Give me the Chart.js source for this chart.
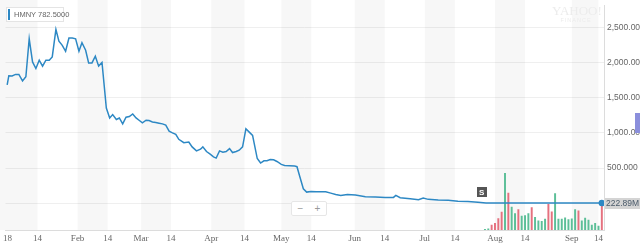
<!DOCTYPE html>
<html>
<head>
<meta charset="utf-8">
<script src="https://cdn.jsdelivr.net/npm/chart.js@4.4.0/dist/chart.umd.min.js"></script>
<style>
    body { margin: 0; background: #fff; overflow: hidden; }
    #wrap { position: relative; width: 640px; height: 246px; }
    #legend { position: absolute; left: 6px; top: 7px; width: 56px; height: 13px; border: 1px solid #e4e4e4; background: #fff; font: 7.5px "Liberation Sans", Arial, sans-serif; color: #666; line-height: 13px; white-space: nowrap; }
    #legend .bar { position: absolute; left: 1px; top: 1px; width: 2px; height: 11px; background: #2d88c4; }
    #legend span { position: absolute; left: 7px; }
    #brand { position: absolute; left: 552px; top: 4px; width: 48px; text-align: center; color: #ececec; font-family: "Liberation Serif", serif; }
    #brand .big { font-size: 13px; line-height: 13px; }
    #brand .small { font: 5.5px "Liberation Sans", sans-serif; letter-spacing: 1px; line-height: 7px; }
    #zoom { position: absolute; left: 291px; top: 201px; width: 34px; height: 13px; border: 1px solid #e6e6e6; border-radius: 2px; background: #fff; font: 10px "Liberation Sans", sans-serif; color: #999; line-height: 13px; }
    #zoom span { position: absolute; width: 17px; text-align: center; }
    #tab { position: absolute; left: 635px; top: 113px; width: 5px; height: 20px; background: #8b8fdc; }
</style>
</head>
<body>
<div id="wrap">
    <canvas id="chart" width="640" height="246"></canvas>
    <div id="legend"><div class="bar"></div><span>HMNY 782.5000</span></div>
    <div id="brand"><div class="big">YAHOO!</div><div class="small">FINANCE</div></div>
    <div id="zoom"><span style="left:0">−</span><span style="left:17px">+</span></div>
    <div id="tab"></div>
</div>
<script>
// x values are trading-day indexes counted from Jan 2 2018
const tickIdx = [0, 9, 21, 30, 40, 49, 61, 71, 82, 91, 104, 113, 125, 134, 146, 155, 169, 177];
const tickLabels = ["18", "14", "Feb", "14", "Mar", "14", "Apr", "14", "May", "14", "Jun", "14", "Jul", "14", "Aug", "14", "Sep", "14"];

// shaded bands: first trading day of month to the 14th
const bandFrom = [0, 21, 40, 61, 82, 104, 125, 146, 169];
const bandTo = [9, 30, 49, 71, 91, 113, 134, 155, 177];

const priceTicks = [0, 500, 1000, 1500, 2000, 2500];

const priceIdx = [-0.1, 0.4, 1.4, 2.4, 3.4, 4.5, 5.5, 6.5, 7.5, 8.5, 9.5, 10.5, 11.5, 12.5, 13.4, 14.5, 15.4, 16.4, 17.4, 18.4,
    19.4, 20.4, 21.4, 22.3, 23.4, 24.3, 25.3, 26.3, 27.3, 28.3, 29.6, 30.6, 31.5, 32.6, 33.5, 34.5, 35.5, 36.5, 37.5, 38.5,
    39.5, 40.4, 41.5, 42.4, 43.4, 44.4, 45.4, 46.4, 47.4, 48.4, 49.4, 50.4, 51.3, 52.8, 54.3, 55.3, 56.6, 57.8, 58.5, 59.6,
    60.7, 61.7, 62.5, 63.5, 64.5, 65.5, 66.5, 67.4, 68.5, 69.4, 70.4, 71.4, 72.4, 73.4, 74.8, 75.8, 76.8, 77.7, 78.7, 79.7,
    80.7, 82.0, 83.0, 84.5, 86.0, 86.7, 87.6, 88.6, 89.6, 90.9, 92.4, 93.9, 95.3, 96.8, 98.3, 99.8, 101.8, 104.2, 107.2, 110.2,
    113.1, 115.6, 116.3, 117.6, 120.6, 123.1, 124.5, 126.0, 129.0, 132.0, 134.9, 137.9, 140.9, 143.3, 150, 160, 170, 178];
const priceVal = [1681, 1812, 1808, 1830, 1830, 1737, 1798, 2336, 2008, 1914, 2032, 1948, 2032, 2032, 2079, 2468, 2303, 2243, 2159, 2346,
    2346, 2336, 2159, 2280, 2173, 1994, 1994, 2088, 1948, 1999, 1353, 1212, 1260, 1190, 1212, 1128, 1222, 1232, 1268, 1212,
    1176, 1142, 1180, 1176, 1156, 1148, 1138, 1128, 1110, 1025, 1001, 979, 909, 861, 871, 801, 744, 768, 801, 735,
    698, 660, 642, 744, 726, 735, 777, 721, 735, 754, 801, 1058, 1011, 965, 636, 572, 604, 604, 622, 618,
    594, 552, 538, 534, 529, 520, 369, 206, 159, 169, 164, 164, 164, 145, 126, 112, 126, 117, 94, 88,
    84, 84, 112, 80, 66, 52, 74, 56, 46, 42, 28, 24, 14, 4, 3, 3, 3, 3];

// volume in millions, up = green bar
const volIdx = [143, 144, 145, 146, 147, 148, 149, 150, 151, 152, 153, 154, 155, 156, 157, 158, 159, 160,
    161, 162, 163, 164, 165, 166, 167, 168, 169, 170, 171, 172, 173, 174, 175, 176, 177, 178];
const volVal = [6, 10, 41, 55, 96, 149, 473, 308, 192, 138, 171, 116, 121, 138, 187, 105, 77, 72,
    91, 215, 151, 303, 91, 91, 102, 88, 94, 171, 160, 77, 99, 83, 41, 55, 33, 222.89];
const volUp = [1, 1, 0, 0, 0, 0, 1, 0, 1, 1, 0, 1, 1, 1, 0, 1, 1, 1,
    1, 0, 0, 1, 1, 1, 1, 1, 1, 1, 0, 1, 1, 1, 1, 1, 1, 0];
const lastVolume = "222.89M";

// split event marker
const splitIdx = 142;

const lineColor = "#2d88c4";

const pricePoints = priceIdx.map((x, i) => ({ x: x, y: priceVal[i] }));
const volPoints = volIdx.map((x, i) => ({ x: x, y: volVal[i] }));

const bandsPlugin = {
    id: "bands",
    beforeDatasetsDraw(chart) {
        const ctx = chart.ctx;
        const xs = chart.scales.x;
        const area = chart.chartArea;
        ctx.save();
        ctx.fillStyle = "rgba(0,0,0,0.03)";
        bandFrom.forEach((from, i) => {
            const x1 = i === 0 ? 0 : xs.getPixelForValue(from);
            const x2 = xs.getPixelForValue(bandTo[i]);
            ctx.fillRect(x1, 0, x2 - x1, area.bottom);
        });
        ctx.restore();
    }
};

const overlayPlugin = {
    id: "overlay",
    afterDatasetsDraw(chart) {
        const ctx = chart.ctx;
        const xs = chart.scales.x;
        const ys = chart.scales.y;
        const vs = chart.scales.vol;
        ctx.save();

        // "S" marker above the line
        let k = 0;
        while (k < priceIdx.length - 1 && priceIdx[k] < splitIdx) k++;
        const sx = xs.getPixelForValue(splitIdx);
        const sy = ys.getPixelForValue(priceVal[k]) - 11;
        ctx.fillStyle = "#555";
        ctx.fillRect(Math.round(sx - 5), Math.round(sy - 5), 10, 10);
        ctx.fillStyle = "#fff";
        ctx.font = "bold 8px 'Liberation Sans', sans-serif";
        ctx.textAlign = "center";
        ctx.textBaseline = "middle";
        ctx.fillText("S", sx, sy + 0.5);

        // last volume label on the right axis
        const vy = vs.getPixelForValue(volVal[volVal.length - 1]);
        ctx.fillStyle = "#d4d4d4";
        ctx.fillRect(605, Math.round(vy - 5), 35, 11);
        ctx.fillStyle = "#4a5a6a";
        ctx.font = "8.5px 'Liberation Sans', sans-serif";
        ctx.textAlign = "left";
        ctx.fillText(lastVolume, 606, vy + 0.5);
        ctx.restore();
    }
};

const ctx = document.getElementById("chart").getContext("2d");
new Chart(ctx, {
    data: {
        datasets: [{
            type: "line",
            label: "HMNY",
            data: pricePoints,
            yAxisID: "y",
            borderColor: lineColor,
            backgroundColor: lineColor,
            borderWidth: 1.5,
            pointRadius: c => c.dataIndex === pricePoints.length - 1 ? 2.5 : 0,
            tension: 0,
            order: 1
        }, {
            type: "bar",
            label: "Volume",
            data: volPoints,
            yAxisID: "vol",
            backgroundColor: volUp.map(u => u ? "#5cbf98" : "#e5717f"),
            barThickness: 1.3,
            order: 2
        }]
    },
    options: {
        responsive: false,
        animation: false,
        layout: { padding: { top: 3, left: 0, right: 0, bottom: 0 } },
        plugins: { legend: { display: false }, tooltip: { enabled: false } },
        scales: {
            x: {
                type: "linear",
                offset: false,
                min: -0.6,
                max: 178.65,
                grid: { display: false, drawTicks: false, offset: false },
                border: { display: true, color: "#dcdcdc" },
                afterBuildTicks: s => { s.ticks = tickIdx.map(v => ({ value: v })); },
                afterFit: s => { s.height = 16; s.paddingLeft = 0; s.paddingRight = 0; },
                ticks: {
                    autoSkip: false,
                    maxRotation: 0,
                    padding: 3,
                    color: "#666",
                    font: { family: "'Liberation Serif', serif", size: 9 },
                    callback: (v, i) => tickLabels[i]
                }
            },
            y: {
                position: "right",
                min: -379,
                max: 2809,
                grid: { color: "#efefef", drawTicks: false },
                border: { display: true, color: "#dcdcdc" },
                afterBuildTicks: s => { s.ticks = priceTicks.map(v => ({ value: v })); },
                afterFit: s => { s.width = 36; s.paddingTop = 0; s.paddingBottom = 0; },
                ticks: {
                    padding: 3,
                    color: "#666",
                    font: { family: "'Liberation Sans', sans-serif", size: 8.5 },
                    callback: v => v === 0 ? "" : v.toLocaleString("en-US", { minimumFractionDigits: 3, maximumFractionDigits: 3 })
                }
            },
            vol: {
                display: false,
                min: 0,
                max: 1874
            }
        }
    },
    plugins: [bandsPlugin, overlayPlugin]
});
</script>
</body>
</html>
